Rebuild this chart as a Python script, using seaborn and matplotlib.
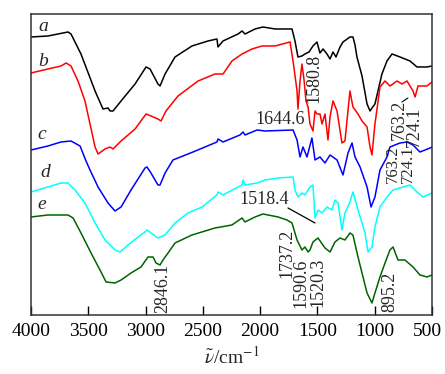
import matplotlib
matplotlib.use('Agg')
import matplotlib.pyplot as plt
import matplotlib.transforms as mtransforms
import seaborn as sns
import numpy as np
import pandas as pd

# wavenumber (cm^-1) and offset transmittance (arb. units)
wn_a = [4000, 3852, 3677, 3651, 3564, 3441, 3372, 3328, 3310, 3284, 3214, 3092, 2996, 2961,
        2892, 2874, 2830, 2743, 2595, 2455, 2377, 2368, 2324, 2193, 2158, 2132, 2045, 1975,
        1870, 1722, 1696, 1670, 1635, 1609, 1574, 1539, 1504, 1478, 1451, 1417, 1390, 1364,
        1338, 1303, 1277, 1216, 1190, 1172, 1155, 1111, 1067, 1041, 1024, 998, 937, 893, 849,
        779, 692, 631, 544, 500]
t_a = [278, 279, 283, 281, 261, 224, 206, 207, 204, 204, 214, 231, 248, 246,
       231, 229, 241, 258, 269, 274, 276, 268, 274, 281, 284, 281, 286, 288,
       286, 286, 274, 258, 259, 261, 263, 269, 273, 262, 266, 261, 256, 263,
       258, 268, 273, 278, 278, 270, 258, 239, 211, 204, 207, 211, 241, 254, 261,
       258, 254, 248, 248, 249]

wn_b = [4000, 3852, 3738, 3694, 3651, 3590, 3529, 3485, 3441, 3415, 3354, 3310, 3284, 3214,
        3092, 2996, 2953, 2892, 2865, 2822, 2717, 2542, 2394, 2324, 2246, 2158, 2071, 1984,
        1870, 1739, 1713, 1678, 1670, 1652, 1635, 1617, 1600, 1582, 1565, 1539, 1521, 1504,
        1478, 1460, 1434, 1408, 1390, 1364, 1329, 1286, 1260, 1216, 1190, 1146, 1111, 1067,
        1041, 1024, 998, 954, 910, 867, 805, 762, 718, 666, 648, 622, 544, 500]
t_b = [242, 246, 249, 252, 249, 234, 214, 191, 168, 161, 166, 168, 166, 174,
       186, 201, 199, 196, 194, 204, 219, 234, 241, 241, 254, 261, 266, 269,
       269, 273, 254, 224, 206, 234, 251, 235, 214, 208, 191, 184, 204, 201,
       201, 191, 201, 175, 198, 214, 204, 172, 174, 224, 208, 201, 194, 188,
       168, 160, 191, 228, 234, 229, 234, 231, 234, 224, 218, 229, 229, 233]

wn_c = [4000, 3852, 3738, 3651, 3572, 3520, 3485, 3415, 3328, 3267, 3214, 3127, 3005, 2988,
        2953, 2892, 2874, 2830, 2761, 2586, 2377, 2368, 2324, 2176, 2150, 2132, 2027, 1958,
        1713, 1678, 1652, 1626, 1591, 1548, 1521, 1478, 1434, 1390, 1329, 1277, 1233, 1198,
        1172, 1128, 1067, 1032, 998, 954, 893, 867, 779, 718, 666, 605, 517, 500]
t_c = [165, 169, 173, 174, 169, 154, 145, 128, 112, 104, 108, 125, 147, 148,
       142, 130, 130, 142, 155, 163, 173, 176, 173, 180, 183, 180, 185, 184,
       185, 175, 158, 168, 158, 177, 155, 158, 152, 160, 155, 140, 162, 172,
       158, 148, 128, 108, 118, 145, 158, 168, 172, 173, 170, 163, 167, 168]

wn_d = [4000, 3852, 3738, 3677, 3616, 3529, 3441, 3354, 3267, 3223, 3153, 3066, 3005, 2988,
        2953, 2892, 2830, 2743, 2630, 2508, 2377, 2368, 2324, 2158, 2150, 2132, 2027, 1958,
        1844, 1713, 1696, 1670, 1635, 1609, 1565, 1539, 1521, 1495, 1460, 1417, 1373, 1347,
        1321, 1286, 1260, 1216, 1190, 1146, 1085, 1058, 1024, 998, 954, 893, 840, 753, 692,
        631, 579, 500]
t_d = [123, 128, 132, 132, 125, 112, 92, 75, 65, 63, 70, 78, 83, 85,
       82, 77, 80, 92, 102, 108, 120, 123, 120, 130, 135, 130, 132, 135,
       137, 138, 125, 118, 122, 120, 128, 130, 97, 105, 102, 108, 105, 115,
       112, 85, 102, 113, 123, 105, 82, 63, 68, 88, 108, 118, 125, 128, 130,
       123, 118, 122]

wn_e = [4000, 3852, 3677, 3633, 3564, 3476, 3398, 3345, 3267, 3214, 3127, 3040, 2979, 2935,
        2909, 2874, 2848, 2804, 2743, 2595, 2394, 2246, 2158, 2132, 2045, 1975, 1844, 1766,
        1722, 1678, 1635, 1609, 1582, 1565, 1539, 1495, 1434, 1390, 1347, 1303, 1260, 1216,
        1190, 1146, 1111, 1067, 1024, 998, 954, 910, 867, 840, 797, 736, 666, 605, 544, 500]
t_e = [98, 100, 100, 97, 82, 62, 45, 33, 32, 35, 42, 48, 58, 58,
       52, 50, 55, 62, 72, 80, 87, 90, 97, 93, 98, 101, 98, 95,
       92, 75, 65, 68, 63, 65, 73, 77, 67, 63, 73, 77, 75, 82,
       80, 58, 42, 22, 12, 22, 38, 52, 65, 68, 55, 55, 48, 40, 38, 40]

curve_names = ['a', 'b', 'c', 'd', 'e']
curve_colors = ['black', '#ff0000', '#0000ff', '#00ffff', '#006400']
curve_label_pos = [(3895, 288), (3895, 253), (3904, 180), (3878, 142), (3904, 110)]

frames = []
for name, wn, t in zip(curve_names, [wn_a, wn_b, wn_c, wn_d, wn_e],
                       [t_a, t_b, t_c, t_d, t_e]):
    frames.append(pd.DataFrame({'wn': wn, 't': t, 'sample': name}))
df = pd.concat(frames, ignore_index=True)

# peak labels: text, x, y, rotation, size
peak_labels = [
    ('1580.8', 1530, 237, 90, 13),
    ('1644.6', 1827, 195, 0, 13),
    ('763.2', 788, 195, 90, 13),
    ('724.1', 657, 188, 90, 13),
    ('763.2', 842, 151, 90, 12),
    ('724.1', 712, 151, 90, 12),
    ('1518.4', 1966, 115, 0, 13),
    ('1737.2', 1766, 62, 90, 13),
    ('1590.6', 1644, 32, 90, 13),
    ('1520.3', 1495, 33, 90, 13),
    ('2846.1', 2848, 27, 90, 13),
    ('895.2', 867, 23, 90, 13),
]

sns.set_style('ticks')
plt.rcParams['font.family'] = ['Liberation Serif', 'DejaVu Serif']
plt.rcParams['mathtext.fontset'] = 'stix'

fig = plt.figure(figsize=(4.45, 3.74), dpi=100)
ax = fig.add_axes([0.0697, 0.1578, 0.9011, 0.8048])

sns.lineplot(data=df, x='wn', y='t', hue='sample', palette=curve_colors,
             estimator=None, sort=False, linewidth=1.1, legend=False, ax=ax)

for name, (x, y) in zip(curve_names, curve_label_pos):
    ax.text(x, y, name, fontsize=14, style='italic', ha='center', va='center')

for txt, x, y, rot, fs in peak_labels:
    ax.text(x, y, txt, fontsize=fs, rotation=rot, ha='center', va='center')

# leader lines
ax.plot([1757, 1521], [107, 92], color='black', linewidth=0.9)
ax.plot([762, 710], [213, 217], color='black', linewidth=0.8)

ax.set_xlim(4000, 500)
ax.set_ylim(0, 301)
ax.set_xticks([4000, 3500, 3000, 2500, 2000, 1500, 1000, 500])
ax.set_yticks([])
ax.tick_params(axis='x', direction='in', length=6.5, width=1, labelsize=14, pad=6,
               colors='black')
for s in ax.spines.values():
    s.set_visible(True)
    s.set_linewidth(1.1)
    s.set_color('#333333')
ax.set_xlabel(r'$\tilde{\nu}$/cm$^{-1}$', fontsize=14, labelpad=4)
ax.set_ylabel('')

# nudge the last tick label ("500") so it stays inside the figure
shift = mtransforms.ScaledTranslation(-3 / 72, 0, fig.dpi_scale_trans)
last = ax.get_xticklabels()[-1]
last.set_transform(last.get_transform() + shift)

fig.savefig('out.png', dpi=100)
